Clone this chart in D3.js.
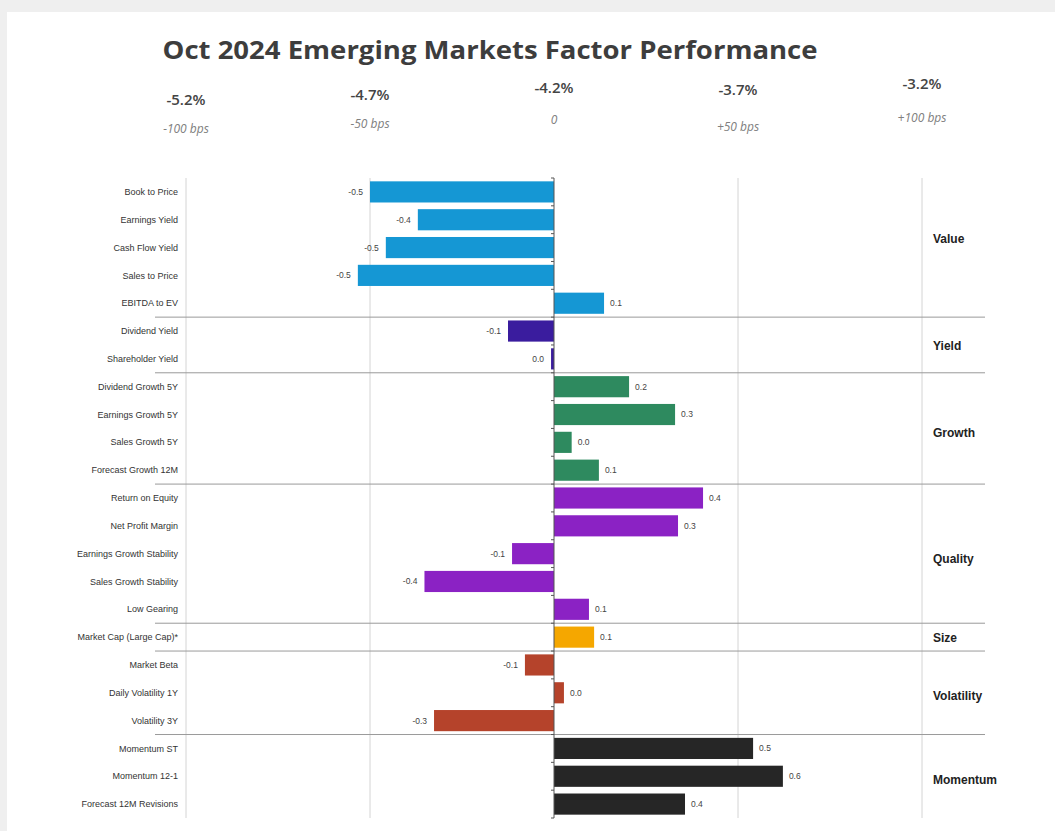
<!DOCTYPE html>
<html>
<head>
<meta charset="utf-8">
<script src="https://cdn.jsdelivr.net/npm/d3@7"></script>
<style>
  html, body { margin: 0; padding: 0; background: #efefef; }
  svg { display: block; }
</style>
</head>
<body>
<svg id="chart" width="1055" height="831"></svg>
<script>
// ---------- DATA ----------
const categories = [
  "Book to Price", "Earnings Yield", "Cash Flow Yield", "Sales to Price", "EBITDA to EV",
  "Dividend Yield", "Shareholder Yield",
  "Dividend Growth 5Y", "Earnings Growth 5Y", "Sales Growth 5Y", "Forecast Growth 12M",
  "Return on Equity", "Net Profit Margin", "Earnings Growth Stability", "Sales Growth Stability", "Low Gearing",
  "Market Cap (Large Cap)*",
  "Market Beta", "Daily Volatility 1Y", "Volatility 3Y",
  "Momentum ST", "Momentum 12-1", "Forecast 12M Revisions"
];
const values = [
  -0.50, -0.37, -0.457, -0.533, 0.136,
  -0.125, -0.008,
  0.204, 0.329, 0.048, 0.122,
  0.405, 0.337, -0.114, -0.352, 0.095,
  0.109,
  -0.079, 0.027, -0.326,
  0.541, 0.622, 0.356
];
const groupNames = ["Value", "Yield", "Growth", "Quality", "Size", "Volatility", "Momentum"];
const groupSizes = [5, 2, 4, 5, 1, 3, 3];
const groupColors = ["#1597d4", "#3a1c9e", "#2e8a5f", "#8b22c4", "#f5a700", "#b5432b", "#262626"];
const axisTicks = [-1, -0.5, 0, 0.5, 1];
const returnLabels = ["-5.2%", "-4.7%", "-4.2%", "-3.7%", "-3.2%"];
const bpsLabels = ["-100 bps", "-50 bps", "0", "+50 bps", "+100 bps"];
const title = "Oct 2024 Emerging Markets Factor Performance";

// ---------- LAYOUT ----------
const pctY = [105, 100, 93, 95, 89];
const bpsY = [133, 128, 124, 131, 122];
const groupLabelShift = [-9, 1, 4, 5, 1, 3, 4];

const svg = d3.select("#chart");
svg.append("rect").attr("x", 7).attr("y", 12).attr("width", 1048).attr("height", 819).attr("fill", "#ffffff");

const x = d3.scaleLinear().domain([-1, 1]).range([186, 922]);
const y = d3.scaleBand().domain(categories).range([178, 818]).paddingInner(0.24).paddingOuter(0.12);

const rowGroup = [];
groupSizes.forEach((n, gi) => { for (let k = 0; k < n; k++) rowGroup.push(gi); });

// title
svg.append("text")
  .attr("x", 490).attr("y", 59)
  .attr("text-anchor", "middle")
  .attr("font-family", "'Open Sans', 'Liberation Sans', sans-serif")
  .attr("font-weight", 700)
  .attr("font-size", 25)
  .attr("fill", "#3d3d3d")
  .attr("textLength", 655).attr("lengthAdjust", "spacingAndGlyphs")
  .text(title);

// header labels
svg.append("g").selectAll("text").data(axisTicks).join("text")
  .attr("x", d => x(d)).attr("y", (d, i) => pctY[i])
  .attr("text-anchor", "middle")
  .attr("font-family", "'Open Sans', 'Liberation Sans', sans-serif")
  .attr("font-weight", 600).attr("font-size", 15).attr("fill", "#444")
  .text((d, i) => returnLabels[i]);
svg.append("g").selectAll("text").data(axisTicks).join("text")
  .attr("x", d => x(d)).attr("y", (d, i) => bpsY[i])
  .attr("text-anchor", "middle")
  .attr("font-family", "'Open Sans', 'Liberation Sans', sans-serif")
  .attr("font-style", "italic").attr("font-size", 12).attr("fill", "#808080")
  .text((d, i) => bpsLabels[i]);

// vertical gridlines
svg.append("g").selectAll("line").data(axisTicks.filter(d => d !== 0)).join("line")
  .attr("x1", d => x(d)).attr("x2", d => x(d))
  .attr("y1", 178).attr("y2", 818)
  .attr("stroke", "#d4d4d4").attr("stroke-width", 1);

// group separators
const boundaries = [];
let acc = 0;
groupSizes.forEach((n, i) => { acc += n; if (i < groupSizes.length - 1) boundaries.push(acc); });
const step = y.step();
svg.append("g").selectAll("line").data(boundaries).join("line")
  .attr("x1", 155).attr("x2", 985)
  .attr("y1", d => y(categories[d]) - (step - y.bandwidth()) / 2)
  .attr("y2", d => y(categories[d]) - (step - y.bandwidth()) / 2)
  .attr("stroke", "#9a9a9a").attr("stroke-width", 1);

// bars
svg.append("g").selectAll("rect").data(categories).join("rect")
  .attr("x", (d, i) => x(Math.min(0, values[i])))
  .attr("y", d => y(d))
  .attr("width", (d, i) => Math.abs(x(values[i]) - x(0)))
  .attr("height", y.bandwidth())
  .attr("fill", (d, i) => groupColors[rowGroup[i]]);

// zero axis with ticks
svg.append("line").attr("x1", x(0)).attr("x2", x(0)).attr("y1", 178).attr("y2", 818)
  .attr("stroke", "#555").attr("stroke-width", 1);
svg.append("g").selectAll("line").data(d3.range(categories.length + 1)).join("line")
  .attr("x1", x(0) - 3).attr("x2", x(0))
  .attr("y1", i => 178 + (818 - 178) / categories.length * i)
  .attr("y2", i => 178 + (818 - 178) / categories.length * i)
  .attr("stroke", "#555");

// category labels
svg.append("g").selectAll("text").data(categories).join("text")
  .attr("x", 178).attr("y", d => y(d) + y.bandwidth() / 2)
  .attr("dy", "0.35em")
  .attr("text-anchor", "end")
  .attr("font-family", "'Liberation Sans', Arial, sans-serif")
  .attr("font-size", 9).attr("fill", "#333")
  .text(d => d);

// value labels
const fmt = v => {
  const s = d3.format(".1f")(v).replace("\u2212", "-");
  return s === "-0.0" ? "0.0" : s;
};
svg.append("g").selectAll("text").data(categories).join("text")
  .attr("x", (d, i) => values[i] < 0 ? x(values[i]) - 7 : x(values[i]) + 6)
  .attr("y", d => y(d) + y.bandwidth() / 2)
  .attr("dy", "0.35em")
  .attr("text-anchor", (d, i) => values[i] < 0 ? "end" : "start")
  .attr("font-family", "'Liberation Sans', Arial, sans-serif")
  .attr("font-size", 8.5).attr("fill", "#444")
  .text((d, i) => fmt(values[i]));

// group labels
let start = 0;
const groupCenters = groupSizes.map(n => {
  const a = categories[start], b = categories[start + n - 1];
  start += n;
  return (y(a) + y(b) + y.bandwidth()) / 2;
});
svg.append("g").selectAll("text").data(groupNames).join("text")
  .attr("x", 933).attr("y", (d, i) => groupCenters[i] + groupLabelShift[i])
  .attr("dy", "0.35em")
  .attr("font-family", "'Liberation Sans', Arial, sans-serif")
  .attr("font-weight", 700).attr("font-size", 12).attr("fill", "#222")
  .text(d => d);
</script>
</body>
</html>
